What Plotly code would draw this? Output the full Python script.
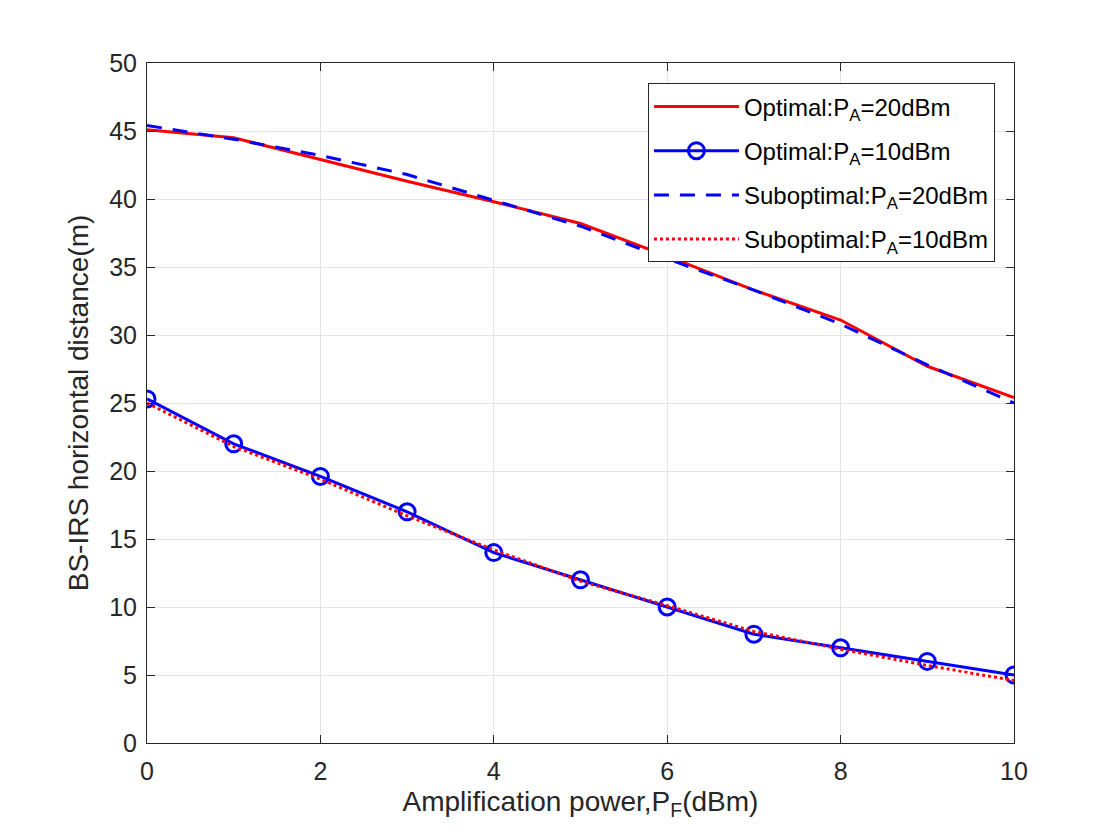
import plotly.graph_objects as go

x = list(range(0, 11))
opt20 = [45.1, 44.5, 42.9, 41.3, 39.8, 38.2, 35.8, 33.3, 31.1, 27.7, 25.4]
opt10 = [25.3, 22.0, 19.6, 17.0, 14.0, 12.0, 10.0, 8.0, 7.0, 6.0, 5.0]
sub20 = [45.4, 44.4, 43.2, 41.8, 39.9, 38.0, 35.6, 33.3, 30.8, 27.8, 25.0]
sub10 = [25.0, 21.8, 19.4, 16.7, 14.2, 11.9, 10.1, 8.2, 6.9, 5.7, 4.6]

names = ["Optimal:P<sub>A</sub>=20dBm", "Optimal:P<sub>A</sub>=10dBm",
         "Suboptimal:P<sub>A</sub>=20dBm", "Suboptimal:P<sub>A</sub>=10dBm"]

fig = go.Figure()
fig.add_trace(go.Scatter(x=x, y=opt20, mode="lines", name=names[0], legendgroup="a",
                         line=dict(color="#ff0000", width=3)))
fig.add_trace(go.Scatter(x=x, y=opt10, mode="lines+markers", name=names[1], legendgroup="b",
                         line=dict(color="#0000ff", width=3),
                         marker=dict(symbol="circle-open", size=16, color="#0000ff",
                                     line=dict(width=3, color="#0000ff"))))
fig.add_trace(go.Scatter(x=x, y=sub20, mode="lines", name=names[2], legendgroup="c",
                         line=dict(color="#0000ff", width=3, dash="15px,11px")))
fig.add_trace(go.Scatter(x=x, y=sub10, mode="lines", name=names[3], legendgroup="d",
                         line=dict(color="#ff0000", width=3, dash="dot")))

FONT = "Liberation Sans, Arial"
axis_common = dict(showline=True, linecolor="#262626", linewidth=1, mirror="ticks",
                   ticks="inside", ticklen=8, tickcolor="#262626",
                   showgrid=True, gridcolor="#e3e3e3", gridwidth=1, zeroline=False,
                   tickfont=dict(family=FONT, size=25, color="#262626"),
                   title_font=dict(family=FONT, size=28, color="#262626"))

fig.update_xaxes(range=[0, 10], tickvals=[0, 2, 4, 6, 8, 10], ticklabelstandoff=6,
                 title_text="Amplification power,P<sub>F</sub>(dBm)", title_standoff=7,
                 **axis_common)
fig.update_yaxes(range=[0, 50], tickvals=list(range(0, 51, 5)), ticklabelstandoff=4,
                 title_text="BS-IRS horizontal distance(m)", title_standoff=12,
                 **axis_common)

fig.update_layout(
    width=1104, height=824,
    margin=dict(l=139, r=98, t=55, b=89),
    paper_bgcolor="white", plot_bgcolor="white",
    font=dict(family=FONT, color="#262626"),
    legend=dict(x=0.978, y=0.97, xanchor="right", yanchor="top",
                bgcolor="white", bordercolor="#262626", borderwidth=1,
                font=dict(family=FONT, size=24, color="black"),
                itemwidth=85, tracegroupgap=10),
    showlegend=True,
)

fig.write_html("out.html")
